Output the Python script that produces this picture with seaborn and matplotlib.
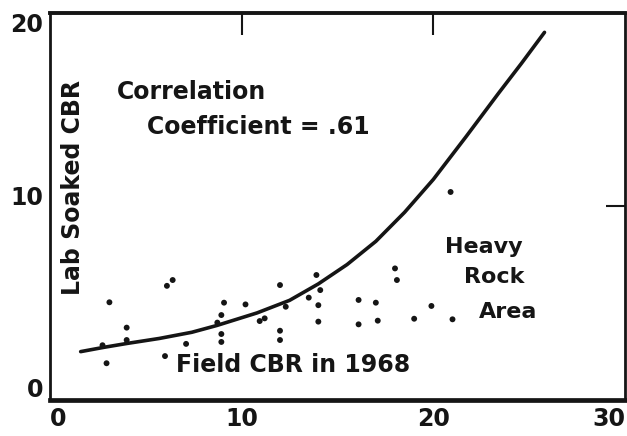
import matplotlib
matplotlib.use("Agg")
import matplotlib.pyplot as plt
import matplotlib.transforms as mtrans
import seaborn as sns
import pandas as pd

# Scatter data: Field CBR in 1968 (x) vs Lab Soaked CBR (y)
field_cbr = [2.74, 2.95, 3.1, 4.0, 4.0, 6.0, 6.1, 6.4, 7.1, 8.73, 8.94, 8.94, 8.94,
             9.08, 10.2, 10.94, 11.2, 12.0, 12.3, 12.0, 12.0, 13.5, 13.9, 14.1, 14.0,
             14.0, 16.1, 16.1, 17.0, 17.1, 18.0, 18.1, 19.0, 19.9, 21.0, 20.9]
lab_cbr = [2.83, 1.9, 5.05, 3.74, 3.1, 2.27, 5.9, 6.2, 2.9, 4.0, 4.39, 3.41, 3.0,
           5.03, 4.94, 4.08, 4.22, 5.94, 4.82, 3.58, 3.1, 5.29, 6.46, 5.68, 4.9,
           4.05, 5.17, 3.91, 5.03, 4.1, 6.8, 6.2, 4.2, 4.86, 4.17, 10.75]

# Fitted curve
curve_x = [1.6, 2.8, 4.0, 5.7, 7.4, 8.7, 10.8, 12.5, 14.0, 15.5, 17.0, 18.5, 20.0,
           21.7, 23.4, 24.6, 25.8]
curve_y = [2.5, 2.72, 2.92, 3.18, 3.5, 3.85, 4.5, 5.15, 6.0, 7.0, 8.2, 9.7, 11.4,
           13.6, 15.85, 17.4, 19.0]

x_ticks = [0, 10, 20, 30]
y_ticks = [0, 10, 20]

sns.set_theme(style="white")
plt.rcParams['font.family'] = ['DejaVu Sans']
ink = "#151515"

fig = plt.figure(figsize=(6.27, 4.36), dpi=100)
ax = fig.add_axes([50/627, 36/436, 575/627, 387/436])

pts = pd.DataFrame({"x": field_cbr, "y": lab_cbr})
crv = pd.DataFrame({"x": curve_x, "y": curve_y})
sns.scatterplot(data=pts, x="x", y="y", ax=ax, color=ink, s=18, edgecolor="none")
sns.lineplot(data=crv, x="x", y="y", ax=ax, color=ink, linewidth=2.6, sort=True)

ax.set_xlim(0, 30)
ax.set_ylim(0, 20)
ax.set_xticks(x_ticks)
ax.set_yticks(y_ticks)
ax.set_xticklabels([str(v) for v in x_ticks], fontsize=17, fontweight="bold", color=ink)
ax.set_yticklabels([str(v) for v in y_ticks], fontsize=17, fontweight="bold", color=ink)
ax.set_xlabel("")
ax.set_ylabel("")
ax.tick_params(axis="x", direction="in", length=10, width=1.5, pad=5, colors=ink)
ax.tick_params(axis="y", direction="in", length=9, width=1.5, pad=5, colors=ink)
xl = ax.get_xticklabels()
xl[0].set_ha("left")
xl[-1].set_ha("right")
# y tick labels sit a bit off their ticks in the original
yl = ax.get_yticklabels()
for lab, dy in zip(yl, [9, 8, -7]):
    lab.set_transform(lab.get_transform() + mtrans.ScaledTranslation(0, dy / 72, fig.dpi_scale_trans))

for side, lw in [("bottom", 3.4), ("top", 2.8), ("left", 2.0), ("right", 2.0)]:
    ax.spines[side].set_visible(True)
    ax.spines[side].set_linewidth(lw)
    ax.spines[side].set_color(ink)

top = ax.secondary_xaxis("top")
top.set_xticks([10, 20])
top.tick_params(direction="in", length=16, width=1.5, labeltop=False, colors=ink)
top.spines["top"].set_visible(False)
right = ax.secondary_yaxis("right")
right.set_yticks([10])
right.tick_params(direction="in", length=14, width=1.5, labelright=False, colors=ink)
right.spines["right"].set_visible(False)

kw = dict(fontsize=17, fontweight="bold", color=ink)
kw2 = dict(fontsize=16, fontweight="bold", color=ink)
ax.text(1.2, 11.0, "Lab Soaked CBR", rotation=90, ha="center", va="center", **kw)
ax.text(3.5, 15.9, "Correlation", ha="left", va="center", **kw)
ax.text(5.05, 14.1, "Coefficient = .61", ha="left", va="center", **kw)
ax.text(6.6, 1.8, "Field CBR in 1968", ha="left", va="center", **kw)
ax.text(20.6, 7.9, "Heavy", ha="left", va="center", **kw2)
ax.text(21.6, 6.35, "Rock", ha="left", va="center", **kw2)
ax.text(22.4, 4.55, "Area", ha="left", va="center", **kw2)

fig.savefig("out.png", dpi=100, facecolor="white")
